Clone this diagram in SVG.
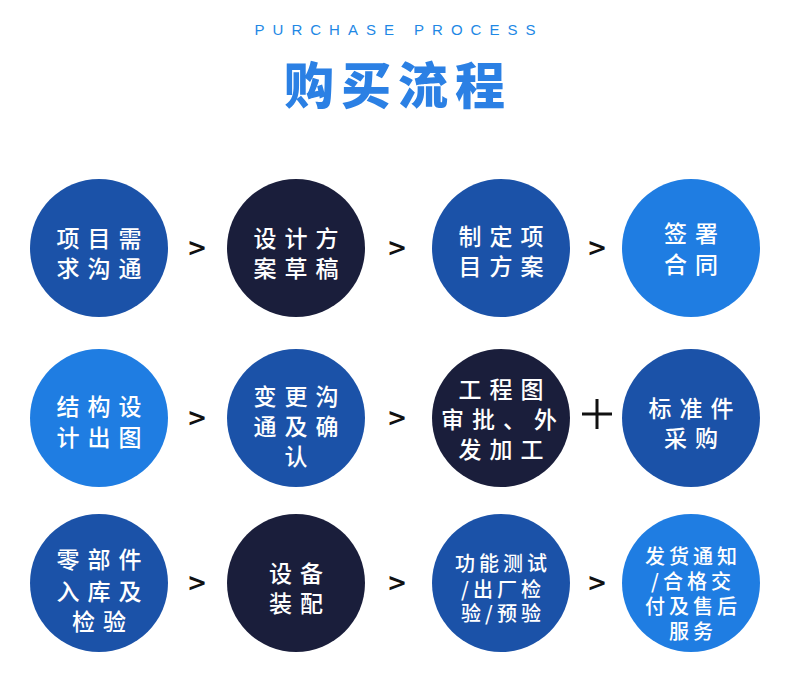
<svg xmlns="http://www.w3.org/2000/svg" width="790" height="682" viewBox="0 0 790 682">
<style>
.mid{fill:#1b52a8}.navy{fill:#1a1e3b}.bright{fill:#1f7de2}
.t{font-family:"Noto Sans CJK SC","Noto Sans",sans-serif;font-size:23px;font-weight:500;fill:#fff;text-anchor:middle;dominant-baseline:central;letter-spacing:8px}
.s{font-size:20px;letter-spacing:4px}
.arr{font-family:"DejaVu Sans",sans-serif;font-size:24px;font-weight:bold;fill:#111;text-anchor:middle;dominant-baseline:central}
</style>
<rect width="790" height="682" fill="#fff"/>
<text x="399" y="29" font-family="Liberation Sans,Arial,sans-serif" font-size="15" fill="#1e88e5" text-anchor="middle" dominant-baseline="central" letter-spacing="8">PURCHASE PROCESS</text>
<text x="398" y="82" font-family="Noto Sans CJK SC,sans-serif" font-size="50" font-weight="900" fill="#2b80e4" text-anchor="middle" dominant-baseline="central" letter-spacing="7">购买流程</text>

<g id="n1"><circle class="mid" cx="99" cy="248" r="69"/><text class="t" x="103" y="237">项目需</text><text class="t" x="103" y="267">求沟通</text></g>
<g id="n2"><circle class="navy" cx="296" cy="248" r="69"/><text class="t" x="300" y="237">设计方</text><text class="t" x="300" y="267">案草稿</text></g>
<g id="n3"><circle class="mid" cx="501" cy="248" r="69"/><text class="t" x="505" y="235">制定项</text><text class="t" x="505" y="265">目方案</text></g>
<g id="n4"><circle class="bright" cx="691" cy="248" r="69"/><text class="t" x="695" y="232">签署</text><text class="t" x="695" y="263">合同</text></g>

<g id="n5"><circle class="bright" cx="99" cy="418" r="69"/><text class="t" x="103" y="405">结构设</text><text class="t" x="103" y="436">计出图</text></g>
<g id="n6"><circle class="mid" cx="296" cy="418" r="69"/><text class="t" x="300" y="395">变更沟</text><text class="t" x="300" y="425">通及确</text><text class="t" x="300" y="455">认</text></g>
<g id="n7"><circle class="navy" cx="501" cy="418" r="69"/><text class="t" x="505" y="388">工程图</text><text class="t" x="503" y="418" letter-spacing="5">审批、外</text><text class="t" x="505" y="448">发加工</text></g>
<g id="n8"><circle class="mid" cx="691" cy="418" r="69"/><text class="t" x="695" y="407">标准件</text><text class="t" x="695" y="437">采购</text></g>

<g id="n9"><circle class="mid" cx="99" cy="583" r="69"/><text class="t" x="103" y="558">零部件</text><text class="t" x="103" y="590">入库及</text><text class="t" x="103" y="620">检验</text></g>
<g id="n10"><circle class="navy" cx="296" cy="583" r="69"/><text class="t" x="300" y="572">设备</text><text class="t" x="300" y="602">装配</text></g>
<g id="n11"><circle class="mid" cx="501" cy="583" r="69"/><text class="t s" x="503" y="562">功能测试</text><text class="t s" x="503" y="588">/出厂检</text><text class="t s" x="503" y="612">验/预验</text></g>
<g id="n12"><circle class="bright" cx="691" cy="583" r="69"/><text class="t s" x="693" y="555">发货通知</text><text class="t s" x="693" y="580">/合格交</text><text class="t s" x="693" y="605">付及售后</text><text class="t s" x="693" y="630">服务</text></g>

<g id="connectors">
<text class="arr" x="197" y="248">&gt;</text>
<text class="arr" x="397" y="248">&gt;</text>
<text class="arr" x="597" y="248">&gt;</text>
<text class="arr" x="197" y="418">&gt;</text>
<text class="arr" x="397" y="418">&gt;</text>
<path d="M597 399V429M582 414H612" stroke="#111" stroke-width="3" fill="none"/>
<text class="arr" x="197" y="583">&gt;</text>
<text class="arr" x="397" y="583">&gt;</text>
<text class="arr" x="597" y="583">&gt;</text>
</g>
</svg>
